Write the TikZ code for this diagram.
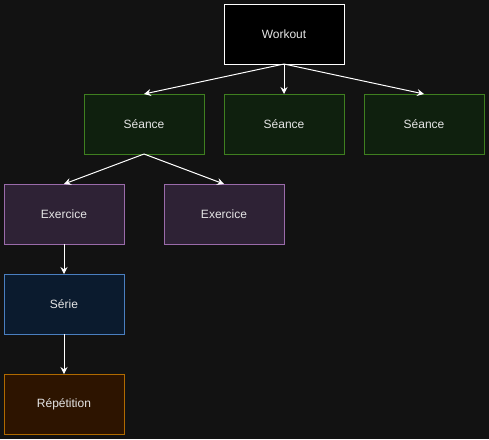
\documentclass[tikz,border=0pt]{standalone}
\usepackage{fontspec}
\setmainfont{Liberation Sans}
\usetikzlibrary{positioning,arrows.meta}

\definecolor{bgdark}{HTML}{121212}
\definecolor{seancefill}{HTML}{0F200E}
\definecolor{seanceline}{HTML}{3F7F1F}
\definecolor{exofill}{HTML}{2E2235}
\definecolor{exoline}{HTML}{9A6BAA}
\definecolor{seriefill}{HTML}{0B1B2E}
\definecolor{serieline}{HTML}{4A7FC0}
\definecolor{repfill}{HTML}{2D1400}
\definecolor{repline}{HTML}{B06A00}

\tikzset{
  box/.style={rectangle, minimum width=120pt, minimum height=60pt, outer sep=0pt,
    line width=1pt, text=white!90!black, font=\fontsize{12}{14}\selectfont},
  workout/.style={box, draw=white, fill=black},
  seance/.style={box, draw=seanceline, fill=seancefill},
  exercice/.style={box, draw=exoline, fill=exofill},
  serie/.style={box, draw=serieline, fill=seriefill},
  repetition/.style={box, draw=repline, fill=repfill},
  link/.style={draw=white, line width=1pt, -{Stealth[length=7pt,width=7pt,inset=2.5pt]}}
}

\begin{document}
\begin{tikzpicture}[x=1pt, y=-1pt]
    \fill[bgdark] (0,0) rectangle (489,439);
    \useasboundingbox (0,0) rectangle (489,439);

    \node[workout] (w) at (284,34) {Workout};
    \node[seance, below=30pt of w] (s2) {Séance};
    \node[seance, left=20pt of s2] (s1) {Séance};
    \node[seance, right=20pt of s2] (s3) {Séance};
    \node[exercice, below=30pt of s1, xshift=-80pt] (e1) {Exercice};
    \node[exercice, below=30pt of s1, xshift=80pt] (e2) {Exercice};
    \node[serie, below=30pt of e1] (se) {Série};
    \node[repetition, below=40pt of se] (r) {Répétition};

    \draw[link] (w.south) -- (s1.north);
    \draw[link] (w.south) -- (s2.north);
    \draw[link] (w.south) -- (s3.north);
    \draw[link] (s1.south) -- (e1.north);
    \draw[link] (s1.south) -- (e2.north);
    \draw[link] (e1.south) -- (se.north);
    \draw[link] (se.south) -- (r.north);
\end{tikzpicture}
\end{document}
